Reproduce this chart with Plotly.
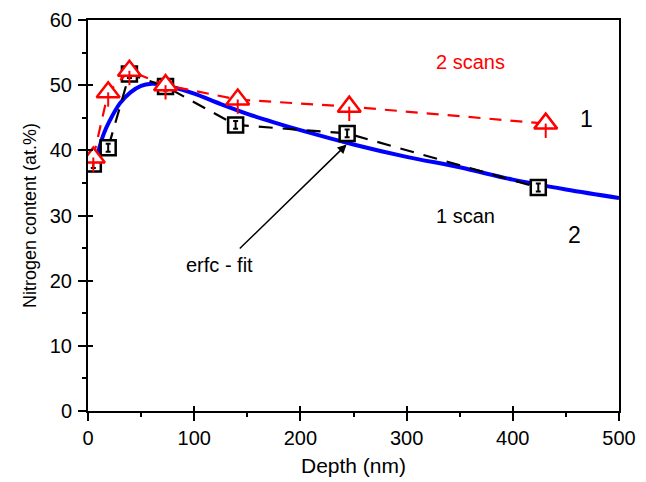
import plotly.graph_objects as go

# Data
depth_2scans = [5, 19, 39, 73, 141, 246, 431]
n_2scans = [38.9, 48.9, 52.2, 50.0, 47.8, 46.7, 44.1]

depth_1scan = [5, 19, 39, 73, 139, 244, 424]
n_1scan = [37.9, 40.4, 51.7, 49.8, 43.9, 42.6, 34.3]

fit_depth = [5, 10, 15, 20, 30, 40, 50, 60, 70, 80, 100, 125, 150, 175, 200, 250, 300, 350, 400, 450, 500]
fit_n = [36.7, 40.0, 42.6, 44.4, 47.2, 48.9, 49.9, 50.2, 50.1, 49.7, 48.7, 47.1, 45.6, 44.3, 43.1, 40.9, 39.0, 37.4, 35.5, 34.0, 32.7]

x_ticks = [0, 100, 200, 300, 400, 500]
y_ticks = [0, 10, 20, 30, 40, 50, 60]

FONT = "Liberation Sans, Arial, sans-serif"
RED = "#ff0000"
HS = 20  # horizontal text size

fig = go.Figure()

# erfc fit
fig.add_trace(go.Scatter(x=fit_depth, y=fit_n, mode="lines", line=dict(color="#0000ff", width=4, shape="spline"),
                         showlegend=False, hoverinfo="skip"))

# 1 scan (black squares)
fig.add_trace(go.Scatter(x=depth_1scan, y=n_1scan, mode="lines+markers",
                         line=dict(color="black", width=2.2, dash="14px,10px"),
                         marker=dict(symbol="square", size=15, color="white", line=dict(color="black", width=2.5)),
                         showlegend=False))
fig.add_trace(go.Scatter(x=depth_1scan, y=n_1scan, mode="markers", marker=dict(size=1, opacity=0),
                         error_y=dict(type="constant", value=0.6, color="black", thickness=2, width=2.5),
                         showlegend=False, hoverinfo="skip"))

# 2 scans (red triangles)
fig.add_trace(go.Scatter(x=depth_2scans, y=n_2scans, mode="lines+markers",
                         line=dict(color=RED, width=2.2, dash="12px,9px"),
                         marker=dict(symbol="triangle-up", size=20, color="white", line=dict(color=RED, width=2.5)),
                         showlegend=False))
fig.add_trace(go.Scatter(x=depth_2scans, y=n_2scans, mode="markers", marker=dict(size=1, opacity=0),
                         error_y=dict(type="data", symmetric=False, array=[0] * len(n_2scans),
                                      arrayminus=[2.2] * len(n_2scans), color=RED, thickness=2, width=0),
                         showlegend=False, hoverinfo="skip"))

# overlay axes for inner half of crossing ticks
fig.add_trace(go.Scatter(x=[None], y=[None], xaxis="x2", yaxis="y2", showlegend=False))

axis_common = dict(showgrid=False, zeroline=False, showline=True, linecolor="black", linewidth=2,
                   ticks="outside", ticklen=8, tickwidth=2, tickcolor="black", automargin=False,
                   tickfont=dict(family=FONT, size=HS, color="black"))

fig.update_layout(
    width=646, height=482,
    margin=dict(l=88, r=27, t=20, b=71),
    paper_bgcolor="white", plot_bgcolor="white",
    font=dict(family=FONT, size=HS, color="black"),
    xaxis=dict(range=[0, 500], tickvals=x_ticks, mirror=True,
               minor=dict(dtick=50, ticks="outside", ticklen=4, tickwidth=2, tickcolor="black"),
               title=dict(text="Depth (nm)", font=dict(family=FONT, size=21), standoff=10),
               **axis_common),
    yaxis=dict(range=[0, 60], tickvals=y_ticks, mirror=True, ticklabelstandoff=2,
               minor=dict(dtick=5, ticks="outside", ticklen=4, tickwidth=2, tickcolor="black"),
               title=dict(text="Nitrogen content (at.%)", font=dict(family=FONT, size=18), standoff=8),
               **axis_common),
    xaxis2=dict(range=[0, 500], tickvals=x_ticks, overlaying="x", anchor="y2", side="bottom",
                showticklabels=False, showgrid=False, zeroline=False, showline=False, automargin=False,
                ticks="inside", ticklen=5, tickwidth=2, tickcolor="black"),
    yaxis2=dict(range=[0, 60], tickvals=y_ticks, overlaying="y", anchor="x2", side="left",
                showticklabels=False, showgrid=False, zeroline=False, showline=False, automargin=False,
                ticks="inside", ticklen=5, tickwidth=2, tickcolor="black"),
)

ann = [
    dict(x=360, y=53.6, text="2 scans", color=RED),
    dict(x=469, y=44.8, text="1", color="black", size=23),
    dict(x=355, y=29.9, text="1 scan", color="black"),
    dict(x=458.5, y=27.0, text="2", color="black", size=23),
    dict(x=123.5, y=22.4, text="erfc - fit", color="black"),
]
for a in ann:
    fig.add_annotation(x=a["x"], y=a["y"], xref="x", yref="y", text=a["text"], showarrow=False,
                       font=dict(family=FONT, size=a.get("size", HS), color=a["color"]))

fig.add_annotation(x=243.5, y=40.9, ax=141.5, ay=24.7, xref="x", yref="y", axref="x", ayref="y",
                   text="", showarrow=True, arrowhead=2, arrowsize=1.2, arrowwidth=1.5, arrowcolor="black")

fig.write_html("out.html")
